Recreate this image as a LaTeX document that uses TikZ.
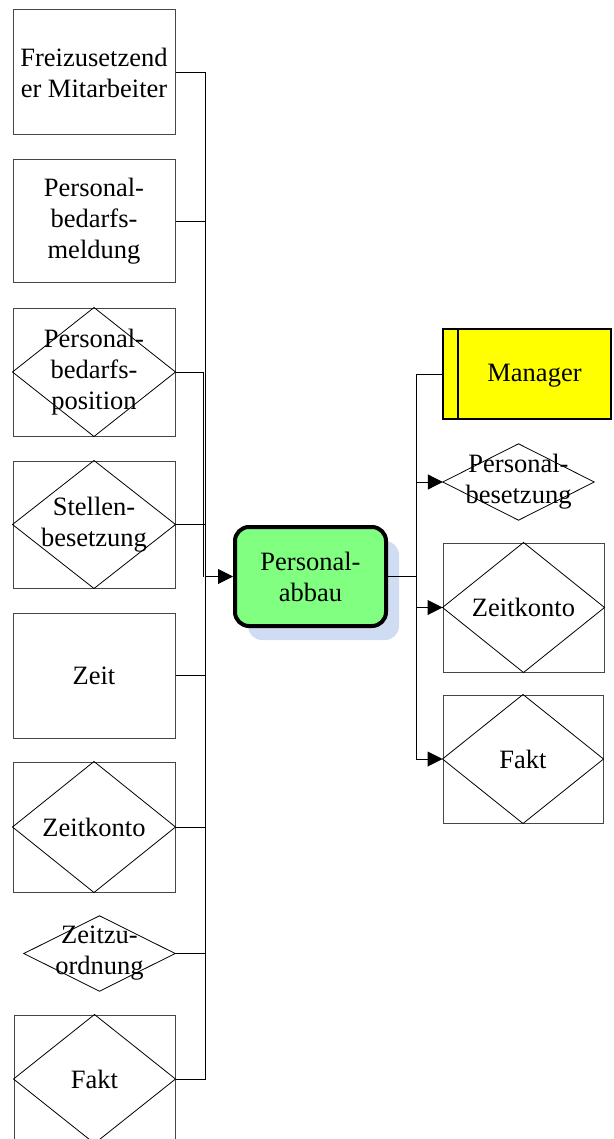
\documentclass[tikz,border=0pt]{standalone}
\usepackage{fontspec}
\setmainfont{Liberation Serif}
\usetikzlibrary{arrows.meta,shadows}
\definecolor{boxgray}{RGB}{70,70,70}
\definecolor{funcgreen}{RGB}{128,255,128}
\definecolor{shadowblue}{RGB}{208,220,242}
\definecolor{orgyellow}{RGB}{255,255,0}
\begin{document}
\begin{tikzpicture}[x=1pt,y=-1pt,
  lbl/.style={font=\fontsize{26.5}{31}\selectfont, align=center, inner sep=0pt},
  objbox/.style={lbl, draw=boxgray, line width=1pt},
  plain/.style={lbl, draw=none},
  conn/.style={draw=black, line width=1pt},
  arr/.style={-{Triangle[length=15pt,width=15pt]}},
  rhomb/.style={draw=black, line width=0.8pt}
]
\useasboundingbox (0,0) rectangle (613,1139);

% left column of input objects
\node[objbox, minimum width=162pt, minimum height=125pt] (fz) at (94,72.5) {Freizusetzend\\er Mitarbeiter};
\node[objbox, minimum width=162pt, minimum height=123pt] (pbm) at (94,221.5) {Personal-\\bedarfs-\\meldung};
\node[objbox, minimum width=162pt, minimum height=128pt] (pbp) at (94,372) {Personal-\\bedarfs-\\position};
\node[objbox, minimum width=162pt, minimum height=127pt] (sb) at (94,524.5) {Stellen-\\besetzung};
\node[objbox, minimum width=162pt, minimum height=125pt] (zeit) at (94,675.5) {Zeit};
\node[objbox, minimum width=162pt, minimum height=130pt] (zk) at (94,827) {Zeitkonto};
\node[plain, minimum width=151pt, minimum height=75pt] (zz) at (99.5,953.5) {Zeitzu-\\ordnung};
\node[objbox, minimum width=161pt, minimum height=128pt] (fakt) at (94.5,1079) {Fakt};

% diamonds inside the entity boxes
\foreach \n in {pbp,sb,zk,zz,fakt}
  \draw[rhomb] (\n.north) -- (\n.east) -- (\n.south) -- (\n.west) -- cycle;

% central function
\node[lbl, draw=black, line width=4pt, rounded corners=14pt, fill=funcgreen,
      minimum width=151pt, minimum height=99pt,
      drop shadow={shadow xshift=13pt, shadow yshift=-14pt, fill=shadowblue, opacity=1}]
      (pa) at (310.5,576.5) {Personal-\\abbau};

% right column
\node[draw=black, line width=2pt, fill=orgyellow, minimum width=168pt, minimum height=90pt,
      inner sep=0pt] (mgr) at (527,374) {};
\coordinate (mgrbar) at (458,0);
\draw[line width=2pt] (mgr.north -| mgrbar) -- (mgr.south -| mgrbar);
\node[lbl] (mgrtxt) at (534.5,376) {Manager};

\node[plain, minimum width=151pt, minimum height=76pt] (pbs) at (518.5,482) {Personal-\\besetzung};
\node[objbox, minimum width=161pt, minimum height=129pt] (zkr) at (523.5,607.5) {Zeitkonto};
\node[objbox, minimum width=160pt, minimum height=128pt] (fr) at (523,759) {Fakt};
\foreach \n in {pbs,zkr,fr}
  \draw[rhomb] (\n.north) -- (\n.east) -- (\n.south) -- (\n.west) -- cycle;

% left collector lines
\coordinate (lt) at (205,0);
\coordinate (lt2) at (203,0);
\draw[conn] (fz.east) -- (fz.east -| lt) -- (fakt.east -| lt) -- (fakt.east);
\foreach \n in {pbm,sb,zeit,zk,zz}
  \draw[conn] (\n.east) -- (\n.east -| lt);
\draw[conn] (pbp.east) -- (pbp.east -| lt2) -- (pa.west -| lt2);
\draw[conn, arr] (pa.west -| lt) -- (pa.west);

% right distributor lines
\coordinate (rt) at (416,0);
\draw[conn] (pa.east) -- (pa.east -| rt);
\draw[conn] (mgr.west) -- (mgr.west -| rt) -- (fr.west -| rt);
\foreach \n in {pbs,zkr,fr}
  \draw[conn, arr] (\n.west -| rt) -- (\n.west);
\end{tikzpicture}
\end{document}
